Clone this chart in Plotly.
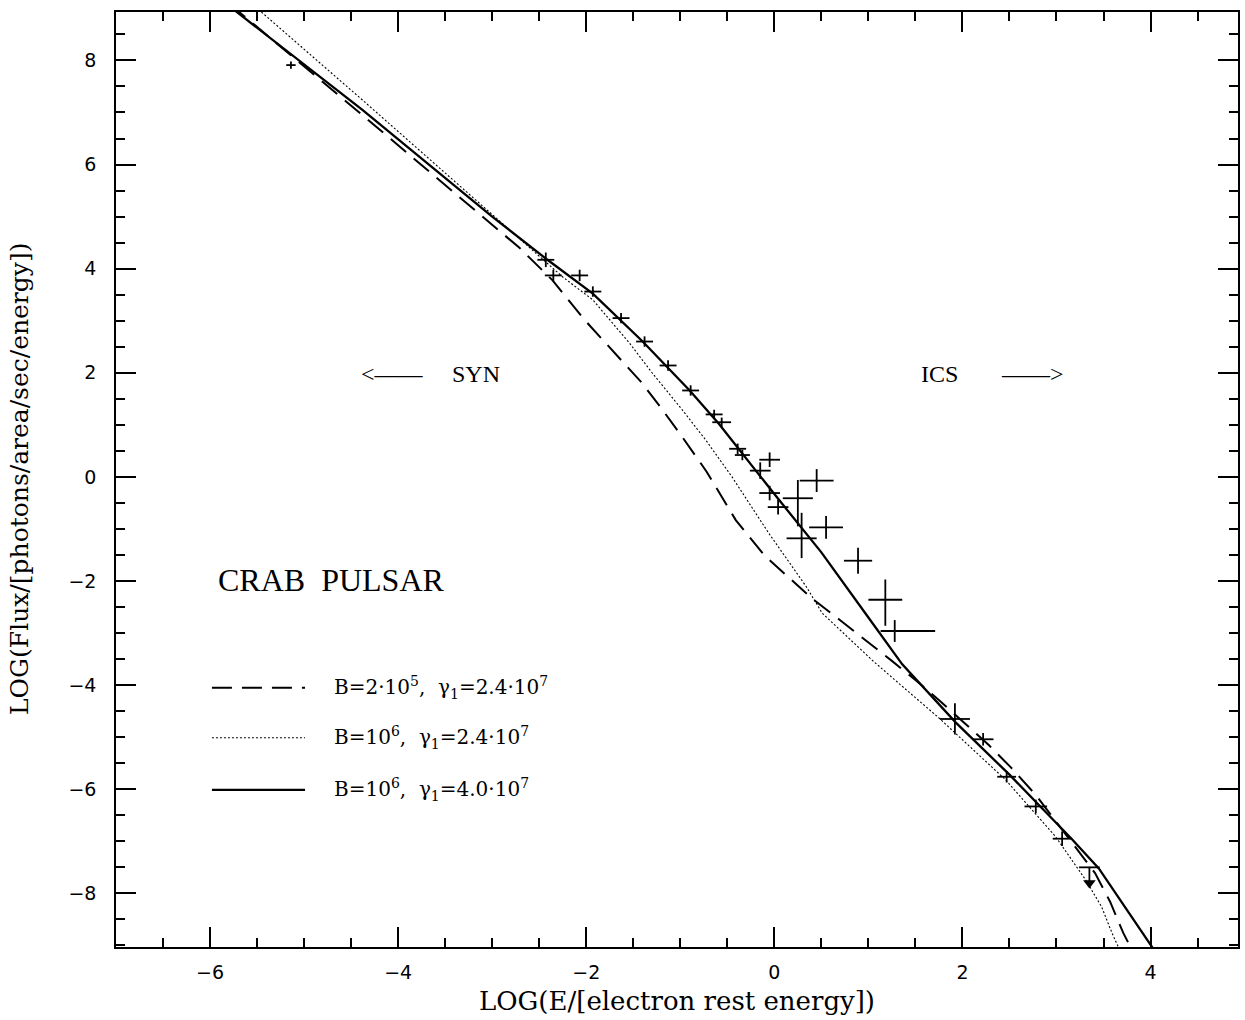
import plotly.graph_objects as go

# ---------------- data ----------------
# model curve: B=2e5, gamma1=2.4e7 (dashed)
dashed_x = [-5.79, -4.38, -2.71, -2.36, -2.02, -1.65, -1.41, -1.19, -0.98, -0.72, -0.41, -0.11, 0.14, 0.39,
            0.69, 0.97, 1.24, 1.5, 1.77, 2.28, 2.52, 2.78, 3.20, 3.41, 3.57, 3.71, 3.82]
dashed_y = [9.08, 6.95, 4.40, 3.78, 3.02, 2.29, 1.81, 1.29, 0.77, 0.10, -0.83, -1.50, -1.92, -2.32,
            -2.74, -3.13, -3.52, -3.90, -4.32, -5.15, -5.59, -6.11, -7.10, -7.61, -8.16, -8.76, -9.15]

# model curve: B=1e6, gamma1=2.4e7 (dotted)
dotted_x = [-5.55, -4.38, -3.0, -2.25, -1.93, -1.54, -1.30, -0.98, -0.73, -0.45, -0.06, 0.34, 0.51,
            1.04, 1.32, 1.75, 2.46, 2.99, 3.31, 3.48, 3.59, 3.68]
dotted_y = [9.08, 7.24, 5.04, 3.84, 3.40, 2.57, 2.00, 1.29, 0.71, 0.0, -1.08, -2.11, -2.62,
            -3.52, -3.96, -4.63, -5.82, -6.91, -7.74, -8.26, -8.76, -9.12]

# model curve: B=1e6, gamma1=4.0e7 (solid)
solid_x = [-5.85, -4.38, -3.0, -2.42, -1.93, -1.4, -0.9, -0.59, 0.0, 0.5, 1.0, 1.36, 1.93, 2.5,
           3.16, 3.45, 4.05]
solid_y = [9.12, 7.05, 5.0, 4.18, 3.52, 2.6, 1.66, 1.02, -0.33, -1.45, -2.7, -3.6, -4.72, -5.72,
           -6.95, -7.52, -9.12]

# measured points
pts_x = [-5.14, -2.43, -2.35, -2.07, -1.93, -1.63, -1.38, -1.13, -0.89, -0.64, -0.56, -0.39, -0.34,
         -0.05, -0.15, -0.05, 0.04, 0.25, 0.45, 0.55, 0.29, 0.89, 1.18, 1.28, 1.92, 2.22, 2.47, 2.78, 3.06]
pts_y = [7.91, 4.17, 3.87, 3.87, 3.56, 3.05, 2.60, 2.14, 1.66, 1.20, 1.05, 0.54, 0.42,
         0.33, 0.12, -0.31, -0.58, -0.41, -0.07, -0.97, -1.18, -1.61, -2.36, -2.96, -4.65, -5.04, -5.76, -6.33, -6.95]
x_err_minus = [0.05, 0.09, 0.09, 0.09, 0.09, 0.09, 0.09, 0.09, 0.09, 0.09, 0.10, 0.09, 0.08,
               0.11, 0.11, 0.11, 0.11, 0.16, 0.18, 0.18, 0.16, 0.15, 0.18, 0.15, 0.16, 0.11, 0.10, 0.12, 0.10]
x_err_plus = [0.05, 0.09, 0.09, 0.09, 0.09, 0.09, 0.09, 0.09, 0.09, 0.09, 0.10, 0.09, 0.08,
              0.11, 0.11, 0.11, 0.11, 0.16, 0.18, 0.18, 0.16, 0.15, 0.18, 0.43, 0.16, 0.11, 0.10, 0.12, 0.10]
y_err_plus = [0.07, 0.14, 0.11, 0.11, 0.10, 0.10, 0.10, 0.10, 0.10, 0.09, 0.09, 0.10, 0.10,
              0.14, 0.16, 0.14, 0.14, 0.35, 0.22, 0.22, 0.49, 0.25, 0.39, 0.21, 0.30, 0.12, 0.11, 0.13, 0.14]
y_err_minus = [0.07, 0.14, 0.11, 0.11, 0.10, 0.10, 0.10, 0.10, 0.10, 0.09, 0.09, 0.10, 0.10,
               0.14, 0.16, 0.14, 0.14, 0.54, 0.22, 0.22, 0.38, 0.25, 0.50, 0.21, 0.30, 0.12, 0.11, 0.13, 0.14]

# upper limit
ul_x = [3.35]
ul_y = [-7.50]
ul_xerr = [0.11]
ul_arrow = [0.30]

legend_labels = ["B=2·10<sup>5</sup>,  γ<sub>1</sub>=2.4·10<sup>7</sup>",
                 "B=10<sup>6</sup>,  γ<sub>1</sub>=2.4·10<sup>7</sup>",
                 "B=10<sup>6</sup>,  γ<sub>1</sub>=4.0·10<sup>7</sup>"]

x_title = "LOG(E/[electron rest energy])"
y_title = "LOG(Flux/[photons/area/sec/energy])"

# ---------------- figure ----------------
BLACK = "black"
fig = go.Figure()

fig.add_trace(go.Scatter(x=dashed_x, y=dashed_y, mode="lines",
                         line=dict(color=BLACK, width=2.0, dash="20px,10px")))
fig.add_trace(go.Scatter(x=dotted_x, y=dotted_y, mode="lines",
                         line=dict(color=BLACK, width=1.1, dash="2px,2px")))
fig.add_trace(go.Scatter(x=solid_x, y=solid_y, mode="lines",
                         line=dict(color=BLACK, width=2.3)))

fig.add_trace(go.Scatter(
    x=pts_x, y=pts_y, mode="markers",
    marker=dict(size=2, color=BLACK),
    error_x=dict(type="data", symmetric=False, array=x_err_plus, arrayminus=x_err_minus,
                 color=BLACK, thickness=1.8, width=0),
    error_y=dict(type="data", symmetric=False, array=y_err_plus, arrayminus=y_err_minus,
                 color=BLACK, thickness=1.8, width=0),
))

fig.add_trace(go.Scatter(
    x=ul_x, y=ul_y, mode="markers",
    marker=dict(size=1, color=BLACK),
    error_x=dict(type="data", array=ul_xerr, color=BLACK, thickness=1.8, width=0),
    error_y=dict(type="data", symmetric=False, array=[0], arrayminus=ul_arrow,
                 color=BLACK, thickness=1.8, width=0),
))
fig.add_trace(go.Scatter(
    x=ul_x, y=[ul_y[0] - ul_arrow[0]], mode="markers",
    marker=dict(symbol="triangle-down", size=11, color=BLACK),
))

serif = "Liberation Serif"
wide_serif = "DejaVu Serif"

annotations = []
# SYN / ICS
annotations.append(dict(x=-4.06, y=1.98, xref="x", yref="y", text="<——", showarrow=False,
                        font=dict(family=serif, size=24, color=BLACK)))
annotations.append(dict(x=-3.17, y=1.98, xref="x", yref="y", text="SYN", showarrow=False,
                        font=dict(family=serif, size=24, color=BLACK)))
annotations.append(dict(x=1.76, y=1.98, xref="x", yref="y", text="ICS", showarrow=False,
                        font=dict(family=serif, size=24, color=BLACK)))
annotations.append(dict(x=2.75, y=1.98, xref="x", yref="y", text="——>", showarrow=False,
                        font=dict(family=serif, size=24, color=BLACK)))
annotations.append(dict(x=-4.71, y=-1.98, xref="x", yref="y", text="CRAB  PULSAR", showarrow=False,
                        font=dict(family=serif, size=32, color=BLACK)))

# legend (manual)
leg_y = [-4.05, -5.01, -6.01]
leg_dash = ["20px,10px", "2px,2px", "solid"]
leg_w = [2.0, 1.1, 2.3]
shapes = []
for yy, d, w, lab in zip(leg_y, leg_dash, leg_w, legend_labels):
    shapes.append(dict(type="line", xref="x", yref="y", x0=-5.98, x1=-4.99, y0=yy, y1=yy,
                       line=dict(color=BLACK, width=w, dash=d)))
    annotations.append(dict(x=-4.70, y=yy, xref="x", yref="y", text=lab, showarrow=False,
                            xanchor="left", yanchor="middle",
                            font=dict(family=wide_serif, size=20, color=BLACK)))

# axis titles
annotations.append(dict(x=0.5, y=-0.058, xref="paper", yref="paper", text=x_title, showarrow=False,
                        xanchor="center", yanchor="middle",
                        font=dict(family=wide_serif, size=26, color=BLACK)))
annotations.append(dict(x=-0.086, y=0.5, xref="paper", yref="paper", text=y_title, showarrow=False,
                        textangle=-90, xanchor="center", yanchor="middle",
                        font=dict(family=wide_serif, size=25, color=BLACK)))

axis_common = dict(
    showline=True, linecolor=BLACK, linewidth=1.5, mirror="ticks",
    ticks="inside", ticklen=20, tickwidth=1.5, tickcolor=BLACK,
    showgrid=False, zeroline=False,
    tickfont=dict(family="DejaVu Sans", size=19, color=BLACK),
    minor=dict(ticks="inside", ticklen=9, tickwidth=1.5, tickcolor=BLACK, dtick=0.5, showgrid=False),
)

fig.update_layout(
    width=1245, height=1020,
    margin=dict(l=116, r=5, t=12, b=73),
    paper_bgcolor="white", plot_bgcolor="white",
    showlegend=False, hovermode=False,
    xaxis=dict(range=[-7, 4.93], tick0=0, dtick=2, ticklabelstandoff=7, **axis_common),
    yaxis=dict(range=[-9.03, 8.93], tick0=0, dtick=2, ticklabelstandoff=14, **axis_common),
    annotations=annotations, shapes=shapes,
)

fig.write_html("out.html", config={"displayModeBar": False},
               post_script="document.body.style.margin='0px';")
